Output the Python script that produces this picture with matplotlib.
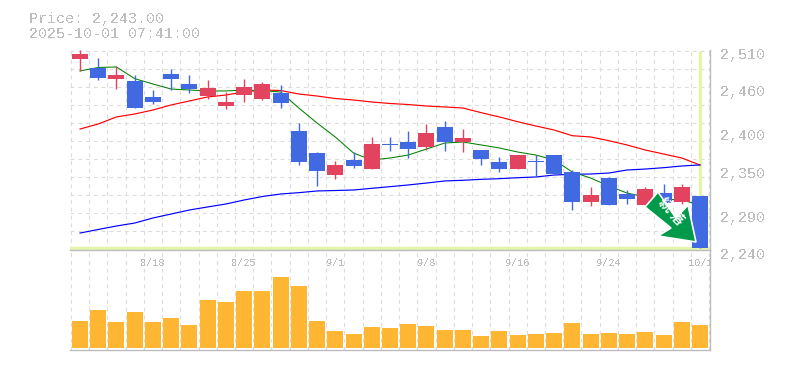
import numpy as np
import matplotlib
matplotlib.use("Agg")
import matplotlib.pyplot as plt
from matplotlib.patches import Polygon
from matplotlib.transforms import Affine2D

W, H = 785, 370
plt.rcParams['font.family'] = ['Liberation Mono', 'DejaVu Sans Mono', 'Noto Sans CJK JP']
plt.rcParams['text.antialiased'] = False

# Values (price panel runs 2240..2510)
def p(v):
    return [round(2510 - (y - 50) * 1.35, 1) for y in v]

highs  = p([50,58,66,75,90,69,75,80,92,79,82,85,123,152,161,152,137,137,131,124,121,129,150,157,155,155,155,170,187,177,190,187,184,184,196])
lows   = p([71,80,89,108,104,90,93,99,109,102,100,108,165,186,179,168,169,151,158,150,151,152,165,172,169,177,174,210,206,205,204,205,204,204,248])
tops   = p([54,68,75,81,97,74,84,88,102,87,84,93,131,153,165,160,144,144,142,133,127,138,150,162,155,161,155,172,195,178,194,189,193,187,196])
bots   = p([59,78,79,108,102,79,89,96,106,95,99,103,162,171,175,166,169,145,149,147,142,142,159,169,169,162,174,202,202,205,199,205,203,202,248])
is_red = [1,0,1,0,0,0,0,1,1,1,1,0,0,0,1,0,1,0,0,1,0,1,0,0,1,0,0,0,1,0,0,1,0,1,0]
ma_green = p([71,67.5,67,78.7,84,89,90,91,91,90,90.7,92,108,123,137,153,160,158,155,149,143,142,145,148,152,155,160,172,178,186,193,197,199,200,205])
ma_red   = p([129,124,117,114,110,105,101,97,95,92,90,90.5,94,96,98.5,100,102,103.5,104.5,106,107,108,112.7,117,121.7,126,130,135.7,137,140.7,145,150,154,158,165])
ma_blue  = p([233,229.5,226,223,218,214,210,207,204,200,196.5,194,192.7,191,190.5,190,188.3,186.7,185,183,181,180.3,179.3,178.7,177.7,177,175,174.3,174,173,170,169,167.7,166,165])
volume = [27,38,26,36,26,30,23,48,46,57,57,71,62,27,17,14,21,20,24,22,18,18,12,17,13,14,15,25,14,15,14,16,13,26,23]
date_idx = [4,9,14,19,24,29,34]
date_labels = ['8/18','8/25','9/1','9/8','9/16','9/24','10/1']
price_ticks = [2510,2460,2400,2350,2290,2240]
price_now = 2243.00
title_lines = ['Price: 2,243.00','2025-10-01 07:41:00']

GRAY = '#bdbdbd'
GRID = '#dcdcdc'
RED = '#e2445f'
BLUE = '#4169e1'
YEL = '#e3f6a8'
n = len(volume)
x = np.arange(n)
xl = (-10/18.235, n-1+10/18.235)

fig = plt.figure(figsize=(W/100, H/100), dpi=100, facecolor='white')
def axpx(l, t, r, b):
    return fig.add_axes([l/W, 1-b/H, (r-l)/W, (b-t)/H], facecolor='none')
ax = axpx(70, 50, 710, 250)
av = axpx(70, 250, 710, 350)

for a in (ax, av):
    a.set_xlim(*xl)
    a.set_xticks(np.arange(n+1)-0.5)
    a.tick_params(length=0, labelbottom=False, labelleft=False)
    a.grid(axis='x', color=GRID, lw=0.8, ls=(0, (3.5, 3.5)), zorder=0)
    a.set_axisbelow(True)
    for s in ('top', 'left'):
        a.spines[s].set_visible(False)
    for s in ('right', 'bottom'):
        a.spines[s].set_color(GRAY)
        a.spines[s].set_linewidth(1.0)

ax.set_ylim(2240, 2510)
ax.set_yticks([2510 - 1.35*(1 + 18*k) for k in range(12)], minor=False)
ax.grid(axis='y', color=GRID, lw=0.8, ls=(0, (3.5, 3.5)), zorder=0)

ax.axhline(price_now, color=YEL, lw=2.4, zorder=1)
ax.vlines(x[-1], price_now, 2510-1.35, color=YEL, lw=2.4, zorder=1)

ax.plot(x, ma_red, color='#ff0000', lw=0.85, zorder=2)
ax.plot(x, ma_blue, color='#0000ff', lw=0.85, zorder=2)
ax.plot(x, ma_green, color='#008000', lw=0.75, zorder=2)

cols = [RED if r else BLUE for r in is_red]
ax.vlines(x, lows, highs, colors=cols, lw=1.0, zorder=3)
ax.bar(x, np.array(tops)-np.array(bots), bottom=bots, width=16/18.235, color=cols, lw=0, zorder=4)

av.set_ylim(-2, 98)
av.bar(x, volume, width=16/18.235, color='#ffb733', lw=0, zorder=3)

for i, lab in zip(date_idx, date_labels):
    av.text(i, 84.5, lab, ha='center', va='center', fontsize=7.4, color=GRAY, clip_on=True, zorder=5)

for v in price_ticks:
    fig.text(720/W, 1-(255 - (v-2240)/1.35)/H, f'{v:,}', ha='left', va='center', fontsize=10.8, color=GRAY)

for k, s in enumerate(title_lines):
    fig.text(29/W, 1-(19+14.5*k)/H, s, ha='left', va='center', fontsize=10.8, color=GRAY)

# green callout arrow, in figure pixels
px = Affine2D().scale(1, -1).translate(0, H)
arrow = [(658,192),(645,207),(671,228),(658,236),(696,242),(688,205),(676,218)]
fig.add_artist(Polygon(arrow, closed=True, facecolor='#009a4a', edgecolor='white', lw=1.2, transform=px, zorder=10))
t = fig.text(665/W, 1-205/H, '続', rotation=-45, ha='center', va='center', fontsize=10,
         color='white', family=['Noto Sans CJK JP'], weight='bold', zorder=11, antialiased=True)
t = fig.text(676/W, 1-218/H, '落', rotation=-45, ha='center', va='center', fontsize=10,
         color='white', family=['Noto Sans CJK JP'], weight='bold', zorder=11, antialiased=True)

fig.savefig('out.png', dpi=100, facecolor='white')
